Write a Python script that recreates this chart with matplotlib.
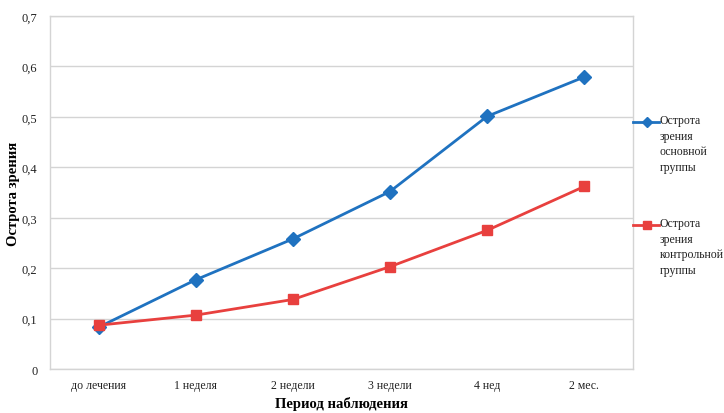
#Visual acuity chart: main vs control group
import matplotlib.pyplot as plt
from matplotlib.lines import Line2D

#Data
periods = ["до лечения", "1 неделя", "2 недели", "3 недели", "4 нед", "2 мес."]
main_group = [0.083, 0.177, 0.258, 0.352, 0.501, 0.579]
control_group = [0.087, 0.107, 0.138, 0.203, 0.275, 0.362]
yticks = [0, 0.1, 0.2, 0.3, 0.4, 0.5, 0.6, 0.7]
ytick_labels = ["0", "0,1", "0,2", "0,3", "0,4", "0,5", "0,6", "0,7"]
legend_main = "Острота\nзрения\nосновной\nгруппы"
legend_control = "Острота\nзрения\nконтрольной\nгруппы"

BLUE = "#1f72c0"
RED = "#e8403e"
GRID = "#d4d4d4"

plt.rcParams['font.family'] = ['Liberation Serif', 'DejaVu Serif']

fig = plt.figure(figsize=(7.24, 4.14), dpi=100)
ax = fig.add_axes([0.069, 0.106, 0.805, 0.853])

x = range(len(periods))
ax.plot(x, main_group, color=BLUE, linewidth=2, marker="D", markersize=7, zorder=3)
ax.plot(x, control_group, color=RED, linewidth=2, marker="s", markersize=7, zorder=3)

ax.set_xlim(-0.5, len(periods) - 0.5)
ax.set_ylim(0, 0.7)
ax.set_yticks(yticks)
ax.set_yticklabels(ytick_labels)
ax.set_xticks(list(x))
ax.set_xticklabels(periods)
ax.tick_params(axis="both", length=0, labelsize=8.5, colors="#222222")
ax.tick_params(axis="x", pad=7)
ax.tick_params(axis="y", labelsize=9, pad=9)
ax.yaxis.grid(True, color=GRID, linewidth=1)
ax.set_axisbelow(True)
for s in ax.spines.values():
    s.set_color(GRID)
    s.set_linewidth(1)

ax.set_xlabel("Период наблюдения", fontsize=10.5, fontweight="bold")
ax.set_ylabel("Острота зрения", fontsize=10.5, fontweight="bold")
ax.xaxis.set_label_coords(0.5, -34 / 353, transform=ax.transAxes)
ax.yaxis.set_label_coords(-36 / 583, 0.5, transform=ax.transAxes)
ax.xaxis.label.set_va("center")
ax.yaxis.label.set_va("center")

#Legend drawn by hand so handle lines up with first text line
def legend_entry(ypix, color, marker, msize, text):
    yf = 1 - ypix / 414
    fig.add_artist(Line2D([633 / 724, 659 / 724], [yf, yf], transform=fig.transFigure,
                          color=color, linewidth=2))
    fig.add_artist(Line2D([647 / 724], [yf], transform=fig.transFigure, color=color,
                          marker=marker, markersize=msize, linestyle="none"))
    fig.text(660 / 724, yf + 8 / 414, text, fontsize=8.5, va="top", ha="left",
             linespacing=1.4, color="#222222")

legend_entry(123, BLUE, "D", 5, legend_main)
legend_entry(226, RED, "s", 6, legend_control)

fig.savefig("out.png", dpi=100)
